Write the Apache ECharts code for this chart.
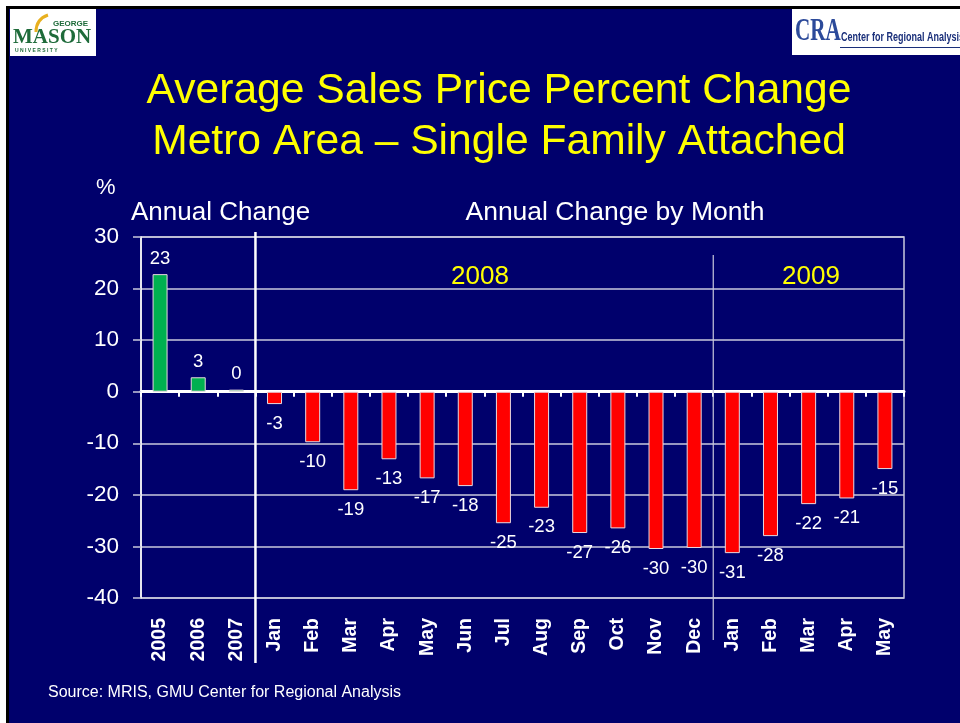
<!DOCTYPE html>
<html><head><meta charset="utf-8">
<script src="https://cdn.jsdelivr.net/npm/echarts@6/dist/echarts.min.js"></script>
<style>html,body{margin:0;padding:0;background:#fff}#c{width:960px;height:723px}</style>
</head><body><div id="c"></div>
<script>
// ---- data ----
const categories = ['2005','2006','2007','Jan','Feb','Mar','Apr','May','Jun','Jul','Aug','Sep','Oct','Nov','Dec','Jan','Feb','Mar','Apr','May'];
const annualValues = [22.8, 2.8, 0.4];
const monthlyValues = [-2.4, -9.8, -19.1, -13.1, -16.8, -18.3, -25.5, -22.5, -27.4, -26.5, -30.5, -30.3, -31.3, -28.0, -21.8, -20.7, -15.0];
const valueLabels = ['23','3','0','-3','-10','-19','-13','-17','-18','-25','-23','-27','-26','-30','-30','-31','-28','-22','-21','-15'];
const yMin = -40, yMax = 30, yInterval = 10;
const titleLines = ['Average Sales Price Percent Change', 'Metro Area \u2013 Single Family Attached'];
const sourceText = 'Source: MRIS, GMU Center for Regional Analysis';

// ---- styles ----
const NAVY = '#00006C';
const GRIDC = '#C8C8DC';
const FONT = '"Liberation Sans", Arial, sans-serif';

const allValues = annualValues.concat(monthlyValues);
const barData = allValues.map((v, i) => ({
  value: v,
  itemStyle: { color: i < annualValues.length ? '#00B050' : '#FF0000' },
  label: { position: v >= 0 ? 'top' : 'bottom', distance: v >= 0 ? 6 : 10 }
}));

const chart = echarts.init(document.getElementById('c'), null, { renderer: 'canvas' });
chart.setOption({
  backgroundColor: NAVY,
  animation: false,
  grid: { left: 141, right: 56, top: 237, bottom: 125, show: true, borderColor: GRIDC, borderWidth: 1.5, backgroundColor: 'transparent' },
  xAxis: [
    {
      type: 'category', data: categories, position: 'bottom',
      axisLine: { show: true, onZero: true, lineStyle: { color: '#FFFFFF', width: 3 } },
      axisTick: { show: true, alignWithLabel: false, length: 5, lineStyle: { color: '#FFFFFF', width: 2 } },
      axisLabel: { show: false }, splitLine: { show: false }
    },
    {
      type: 'category', data: categories, position: 'bottom',
      axisLine: { show: false, onZero: false }, axisTick: { show: false },
      axisLabel: { show: true, rotate: 90, margin: 20, color: '#FFFFFF', fontSize: 19.5, fontWeight: 'bold', fontFamily: FONT, interval: 0 },
      splitLine: { show: false }
    }
  ],
  yAxis: {
    type: 'value', min: yMin, max: yMax, interval: yInterval,
    axisLine: { show: true, lineStyle: { color: '#FFFFFF', width: 1.5 } },
    axisTick: { show: true, inside: false, length: 8, lineStyle: { color: GRIDC, width: 1.5 } },
    axisLabel: { color: '#FFFFFF', fontSize: 22.5, fontFamily: FONT, margin: 22 },
    splitLine: { show: true, lineStyle: { color: GRIDC, width: 1.5 } }
  },
  series: [{
    type: 'bar', xAxisIndex: 0, barWidth: 15, data: barData,
    itemStyle: { borderColor: '#E8D8E0', borderWidth: 1 },
    label: {
      show: true, color: '#FFFFFF', fontSize: 18.5, fontFamily: FONT,
      formatter: p => valueLabels[p.dataIndex]
    }
  }]
});

// separator lines derived from the axis scale
const px = i => chart.convertToPixel({ xAxisIndex: 0 }, i);
const sep1 = (px(annualValues.length - 1) + px(annualValues.length)) / 2;
const sep2 = (px(annualValues.length + 11) + px(annualValues.length + 12)) / 2;
const yTop = chart.convertToPixel({ yAxisIndex: 0 }, yMax);
const yBot = chart.convertToPixel({ yAxisIndex: 0 }, yMin);

function txt(text, x, y, font, fill, align, extra) {
  return Object.assign({ type: 'text', z: 100, style: { text: text, x: x, y: y, font: font, fill: fill, align: align || 'left', textAlign: align || 'left', verticalAlign: 'middle', textVerticalAlign: 'middle' } }, extra || {});
}

chart.setOption({
  graphic: [
    { type: 'line', z: 50, shape: { x1: sep1, y1: yTop - 5, x2: sep1, y2: yBot + 65 }, style: { stroke: '#FFFFFF', lineWidth: 2.5 } },
    { type: 'line', z: 50, shape: { x1: sep2, y1: yTop + 18, x2: sep2, y2: yBot + 42 }, style: { stroke: '#C8C8DC', lineWidth: 1.2 } },
    // frame
    { type: 'rect', z: 90, shape: { x: 0, y: 0, width: 960, height: 6 }, style: { fill: '#FFFFFF' } },
    { type: 'rect', z: 90, shape: { x: 0, y: 0, width: 6, height: 723 }, style: { fill: '#FFFFFF' } },
    { type: 'rect', z: 91, shape: { x: 6, y: 6, width: 954, height: 3 }, style: { fill: '#000000' } },
    { type: 'rect', z: 91, shape: { x: 6, y: 6, width: 3, height: 717 }, style: { fill: '#000000' } },
    // GMU logo
    { type: 'rect', z: 92, shape: { x: 10, y: 9, width: 86, height: 47 }, style: { fill: '#FFFFFF' } },
    { type: 'bezierCurve', z: 93, shape: { x1: 36, y1: 32, x2: 48, y2: 15, cpx1: 36, cpy1: 22, cpx2: 42, cpy2: 17 }, style: { stroke: '#E8B020', lineWidth: 3, fill: null } },
    txt('GEORGE', 53, 24, 'bold 8px ' + FONT, '#1E6B3A', 'left', { z: 94 }),
    txt('MASON', 13, 38, 'bold 21px "Liberation Serif", serif', '#1E6B3A', 'left', { z: 94 }),
    txt('U N I V E R S I T Y', 15, 51, 'bold 5px ' + FONT, '#1E6B3A', 'left', { z: 94 }),
    // CRA logo
    { type: 'rect', z: 92, shape: { x: 792, y: 9, width: 168, height: 46 }, style: { fill: '#FFFFFF' } },
    txt('CRA', 795, 32, 'bold 32px "Liberation Serif", serif', '#2C4A9A', 'left', { z: 94, scaleX: 0.66, originX: 795, originY: 32 }),
    txt('Center for Regional Analysis', 841, 38, 'bold 12.5px ' + FONT, '#1A2F7A', 'left', { z: 94, scaleX: 0.72, originX: 841, originY: 38 }),
    { type: 'rect', z: 93, shape: { x: 840, y: 47, width: 120, height: 1 }, style: { fill: '#1A2F7A' } },
    // titles
    txt(titleLines[0], 499, 91, '42.6px ' + FONT, '#FFFF00', 'center'),
    txt(titleLines[1], 499, 142, '42.6px ' + FONT, '#FFFF00', 'center'),
    // header texts
    txt('%', 96, 188, '22px ' + FONT, '#FFFFFF', 'left'),
    txt('Annual Change', 131, 213, '26px ' + FONT, '#FFFFFF', 'left'),
    txt('Annual Change by Month', 615, 213, '26.5px ' + FONT, '#FFFFFF', 'center'),
    txt('2008', 480, 277, '26px ' + FONT, '#FFFF00', 'center'),
    txt('2009', 811, 277, '26px ' + FONT, '#FFFF00', 'center'),
    txt(sourceText, 48, 693, '16px ' + FONT, '#FFFFFF', 'left')
  ]
});
</script>
</body></html>
